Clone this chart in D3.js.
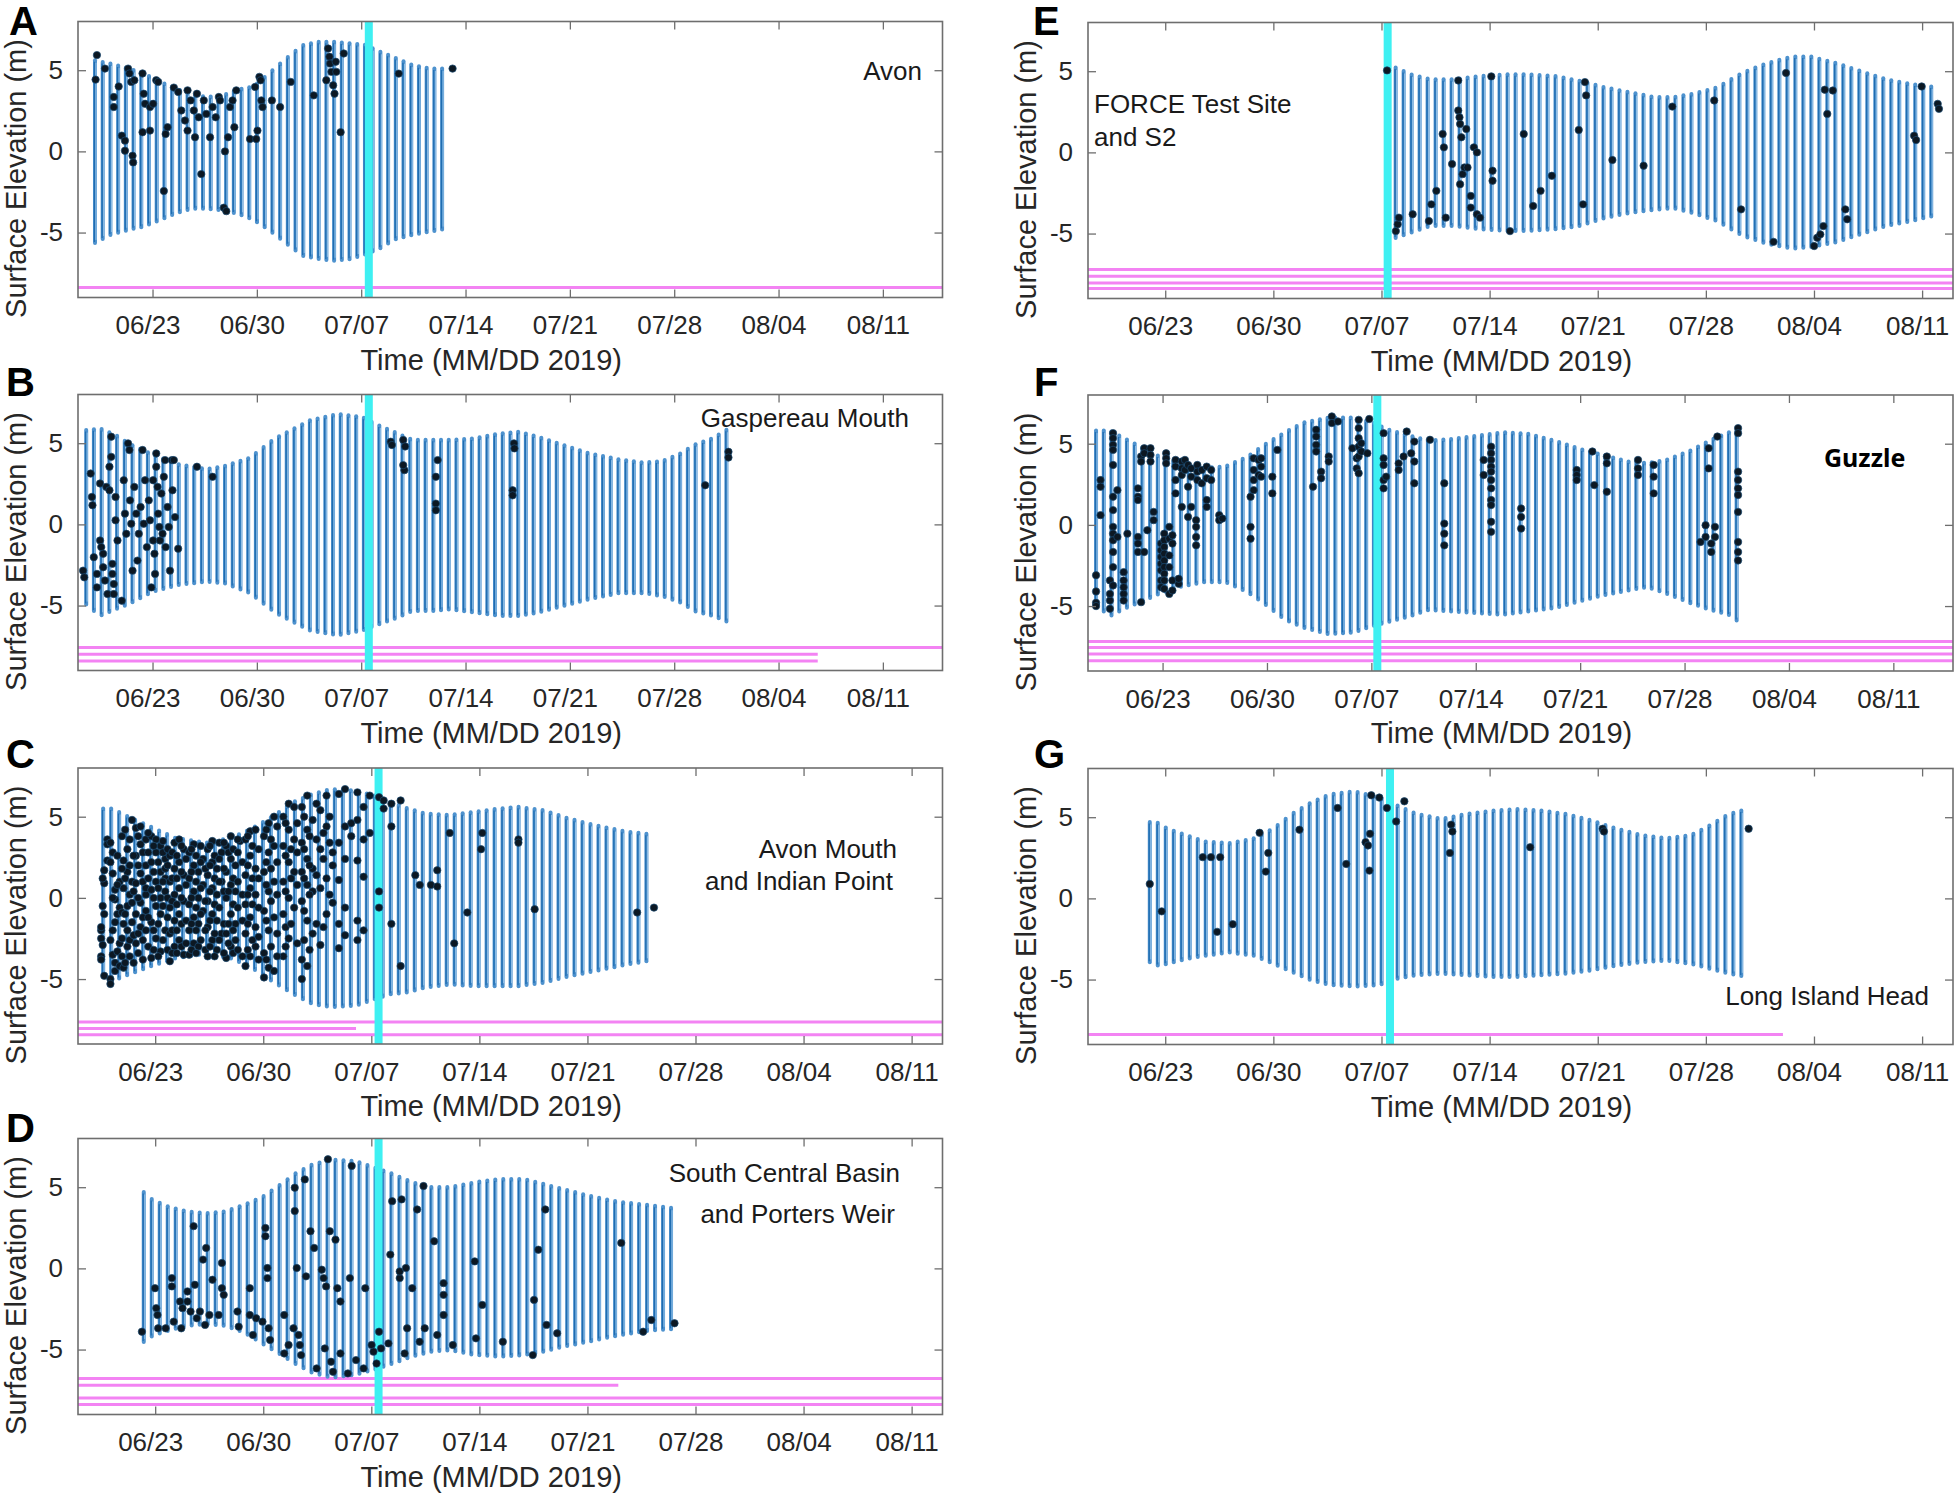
<!DOCTYPE html>
<html>
<head>
<meta charset="utf-8">
<script src="https://cdn.jsdelivr.net/npm/d3@7"></script>
<style>
  body { margin: 0; background: #ffffff; }
  svg { display: block; font-family: "Liberation Sans", Arial, Helvetica, sans-serif; }
</style>
</head>
<body>
<svg id="chart" width="1959" height="1500"></svg>
<script>
// ---------------- DATA (days counted in 2019: day 1 = 06/01, day 31 = 07/01, day 62 = 08/01) ----------------
const tickDays   = [23, 30, 37, 44, 51, 58, 65, 72];
const tickLabels = ["06/23", "06/30", "07/07", "07/14", "07/21", "07/28", "08/04", "08/11"];
const yTickValues = [-5, 0, 5];
const yTickLabels = ["-5", "0", "5"];
const yLimits = [-9, 8];
const xLimitsLong  = [18, 76];   // 06/18 - 08/15
const xLimitsShort = [18, 74];   // 06/18 - 08/13
const xTitle = "Time (MM/DD 2019)";
const yTitle = "Surface Elevation (m)";

// tidal envelope: [day, high water (m), low water (m)]
const envA = [[19.14,5.7,-5.7],[20.2,5.5,-5.2],[21.4,5.2,-4.9],[22.4,4.9,-4.7],[23.5,4.4,-4.3],[24.5,4.0,-3.9],[25.6,3.6,-3.6],[26.6,3.45,-3.6],[27.7,3.55,-3.7],[28.7,3.9,-3.9],[29.8,4.1,-4.3],[30.8,4.9,-4.9],[32.06,5.9,-5.8],[33.1,6.65,-6.5],[34.2,6.85,-6.7],[35.2,6.85,-6.8],[36.3,6.75,-6.7],[37.3,6.65,-6.4],[38.35,6.2,-6.0],[39.2,5.9,-5.5],[40.45,5.4,-5.2],[41.7,5.2,-5.0],[42.9,5.2,-4.8]];
const envB = [[18.55,5.9,-5.0],[19.48,6.0,-5.7],[20.53,5.6,-5.3],[21.57,5.0,-4.9],[23.04,4.4,-4.2],[24.72,3.8,-3.8],[26.61,3.5,-3.6],[27.86,3.7,-3.7],[29.54,4.2,-4.3],[31.22,5.4,-5.5],[32.48,6.0,-6.1],[33.53,6.5,-6.6],[35.42,6.9,-6.9],[37.09,6.7,-6.6],[37.93,6.3,-6.3],[39.19,5.8,-5.9],[40.45,5.3,-5.4],[41.71,5.3,-5.4],[42.97,5.3,-5.3],[44.65,5.4,-5.5],[46.33,5.7,-5.7],[47.58,5.8,-5.7],[48.84,5.5,-5.5],[50.52,5.0,-5.1],[52.20,4.5,-4.7],[54.29,4.1,-4.3],[55.97,3.9,-4.3],[57.23,4.0,-4.5],[58.49,4.5,-4.9],[59.33,5.0,-5.4],[60.59,5.4,-5.7],[61.64,6.0,-6.1]];
const envC = [[19.63,5.6,-4.9],[20.23,5.6,-5.2],[21.24,5.1,-4.8],[22.66,4.5,-4.3],[24.28,3.8,-3.8],[26.30,3.5,-3.5],[27.92,3.8,-3.8],[29.13,4.3,-4.3],[30.75,5.2,-5.3],[31.96,6.0,-6.0],[33.17,6.5,-6.6],[34.39,6.8,-6.8],[36.01,6.7,-6.7],[37.22,6.4,-6.3],[38.23,6.0,-6.0],[39.24,5.65,-5.9],[40.46,5.3,-5.6],[42.08,5.2,-5.4],[43.70,5.4,-5.5],[45.31,5.6,-5.5],[46.53,5.7,-5.5],[48.14,5.5,-5.3],[49.76,5.0,-4.9],[51.38,4.6,-4.6],[53.40,4.2,-4.2],[55.22,4.0,-3.9]];
const envD = [[22.26,4.8,-4.6],[22.86,4.3,-4.2],[23.87,3.9,-3.9],[25.09,3.6,-3.6],[26.30,3.5,-3.5],[27.51,3.6,-3.6],[28.73,4.0,-4.0],[29.94,4.5,-4.7],[31.16,5.3,-5.4],[32.17,6.0,-6.0],[33.18,6.5,-6.5],[34.39,6.8,-6.8],[36.01,6.7,-6.6],[37.22,6.3,-6.3],[38.44,5.9,-5.9],[39.65,5.4,-5.5],[40.86,5.1,-5.2],[42.08,5.1,-5.1],[43.70,5.4,-5.4],[45.31,5.6,-5.5],[46.93,5.6,-5.4],[48.14,5.3,-5.2],[49.36,5.0,-4.9],[50.98,4.6,-4.6],[52.98,4.2,-4.2],[55.00,4.0,-3.9],[56.64,3.8,-3.8]];
const envE = [[37.40,5.4,-5.4],[37.72,5.4,-5.4],[38.94,4.9,-5.0],[40.15,4.6,-4.6],[41.77,4.6,-4.6],[43.38,4.8,-4.8],[45.00,4.9,-4.9],[46.62,4.9,-4.9],[48.23,4.8,-4.8],[49.85,4.5,-4.6],[51.47,4.1,-4.1],[53.08,3.8,-3.8],[54.70,3.5,-3.6],[55.91,3.5,-3.5],[57.13,3.7,-3.8],[58.74,4.1,-4.3],[60.36,5.0,-5.2],[61.98,5.6,-5.7],[63.59,6.0,-6.0],[64.81,6.0,-5.9],[66.42,5.6,-5.6],[68.04,5.1,-5.1],[69.66,4.6,-4.6],[71.27,4.3,-4.3],[73.09,4.1,-3.9]];
const envF = [[18.54,5.9,-5.0],[19.47,5.9,-5.7],[20.51,5.4,-5.2],[21.56,4.9,-4.8],[22.82,4.3,-4.3],[24.08,3.9,-3.9],[25.75,3.6,-3.6],[27.22,3.7,-3.6],[28.69,4.3,-4.2],[29.94,5.1,-5.0],[31.20,5.8,-5.9],[32.46,6.4,-6.4],[34.14,6.7,-6.8],[35.81,6.7,-6.7],[37.07,6.4,-6.3],[38.33,5.9,-6.0],[39.58,5.6,-5.7],[40.84,5.3,-5.3],[42.52,5.4,-5.4],[44.19,5.6,-5.5],[45.87,5.8,-5.6],[47.55,5.7,-5.4],[49.22,5.3,-5.2],[50.90,4.8,-4.8],[52.58,4.4,-4.4],[54.25,4.0,-4.1],[55.51,3.9,-3.9],[56.77,4.1,-4.3],[58.44,4.7,-4.9],[59.70,5.3,-5.3],[60.96,5.8,-5.6],[61.71,6.0,-6.1]];
const envG = [[22.0,4.8,-4.0],[22.44,4.8,-4.2],[23.13,4.4,-4.1],[24.34,4.0,-3.8],[25.55,3.6,-3.6],[27.17,3.5,-3.4],[28.78,3.8,-3.6],[30.0,4.4,-4.1],[31.21,5.3,-4.6],[32.42,6.0,-5.1],[33.63,6.5,-5.4],[35.25,6.7,-5.5],[36.86,6.3,-5.4],[38.07,5.8,-5.0],[39.28,5.3,-4.8],[40.90,5.0,-4.7],[42.52,5.3,-4.8],[44.13,5.5,-4.9],[45.75,5.6,-4.9],[47.36,5.5,-4.8],[48.98,5.3,-4.7],[50.59,4.9,-4.5],[52.21,4.4,-4.2],[53.82,4.0,-4.0],[55.44,3.8,-3.9],[57.05,4.0,-4.1],[58.27,4.6,-4.4],[59.48,5.3,-4.7],[60.69,5.6,-4.9]];

// detections: [day, elevation]
const dotsA = [[19.27,5.93],[19.18,4.42],[19.81,5.1],[20.40,3.35],[20.40,2.73],[20.73,4.0],[20.94,0.97],[21.15,0.66],[21.15,0.04],[21.36,5.1],[21.45,4.8],[21.57,4.28],[21.66,-0.27],[21.70,-0.68],[21.78,4.38],[22.33,4.8],[22.41,3.55],[22.50,2.93],[22.33,1.18],[22.83,1.28],[22.83,2.73],[23.04,2.93],[23.25,4.38],[23.38,4.28],[23.76,-2.44],[23.88,1.07],[24.01,1.49],[24.43,3.93],[24.72,3.66],[24.93,2.52],[25.18,1.9],[25.35,3.76],[25.35,1.28],[25.56,3.14],[25.77,2.52],[25.85,0.87],[25.98,3.55],[26.10,2.1],[26.27,-1.4],[26.44,3.14],[26.61,2.31],[26.86,0.87],[27.03,2.73],[27.24,2.1],[27.45,3.35],[27.53,3.14],[27.78,-3.47],[27.86,0],[27.95,-3.68],[28.07,0.87],[28.20,2.73],[28.37,3.14],[28.49,1.49],[28.62,3.76],[29.54,0.76],[29.88,3.97],[29.96,0.76],[30.04,1.28],[30.17,4.59],[30.25,4.38],[30.30,3.14],[30.38,2.73],[31.01,3.14],[31.56,2.73],[32.27,4.28],[33.82,3.45],[34.66,4.38],[34.78,6.34],[34.87,5.83],[34.91,5.41],[35.00,4.9],[35.12,4.07],[35.29,5.52],[35.33,4.9],[35.21,3.55],[35.62,1.18],[35.83,6.03],[39.52,4.79],[43.13,5.1]];
const dotsB = [[18.34,-2.85],[18.42,-3.26],[18.85,3.13],[18.93,1.69],[18.97,1.18],[19.06,-2.02],[19.27,-3.05],[19.27,-3.88],[19.48,2.52],[19.48,-0.99],[19.56,-1.40],[19.69,-1.81],[19.69,-2.64],[19.81,-3.46],[19.90,2.31],[19.98,-4.29],[20.11,2.10],[20.11,3.55],[20.23,5.40],[20.23,4.16],[20.31,-2.43],[20.31,-3.05],[20.40,-3.67],[20.40,-4.29],[20.52,1.69],[20.52,0.25],[20.65,-0.99],[20.94,-4.70],[21.07,2.72],[21.15,0.66],[21.24,-0.58],[21.36,4.99],[21.45,4.58],[21.49,1.48],[21.57,0.04],[21.66,-2.85],[21.78,2.31],[21.91,0.66],[21.99,-2.23],[22.08,-0.58],[22.20,1.07],[22.33,4.58],[22.41,0.04],[22.50,2.72],[22.62,-1.40],[22.75,1.48],[22.83,0.25],[22.92,-3.88],[23.04,2.72],[23.04,-0.99],[23.13,-1.81],[23.17,-3.05],[23.25,4.37],[23.25,3.55],[23.34,2.31],[23.38,0.66],[23.46,-0.16],[23.50,-0.99],[23.59,1.90],[23.67,-0.58],[23.76,2.93],[23.84,3.96],[23.88,-1.40],[24.01,1.07],[24.09,-0.16],[24.17,-2.85],[24.30,3.96],[24.34,2.10],[24.43,3.96],[24.51,0.45],[24.72,-1.50],[25.98,3.55],[27.03,2.93],[38.98,5.09],[39.06,4.89],[39.82,5.20],[39.90,3.34],[39.95,4.80],[39.82,3.65],[42.13,3.96],[42.01,2.93],[42.01,1.28],[42.01,0.87],[47.25,4.99],[47.28,4.68],[47.16,2.10],[47.16,1.79],[60.08,2.41],[61.64,4.47],[61.64,4.12]];
// columns of detections: [day, [elevations]]
const dotsC = [[19.5,[-3.6,-3.8,-2.0,-2.5,-1.8]],[19.7,[0.9,1.7,-4.8,-1.0]],[19.9,[2.3,3.6,3.3]],
  [20.1,[-5.0,-5.3,-2.6,3.4,2.2]],[20.4,[-4.0,-4.5,-1.5,-0.1,0.5]],[20.7,[-4.2,1.0,-0.6,-2.8]],
  [20.95,[-4.3,-1.6,0.6,2.3]],[21.2,[-2.0,-0.5,1.6,3.0,-3.0]],[21.5,[-1.5,-0.3,1.0,4.8]],
  [21.75,[-2.8,-1.0,0.9,2.6,4.3]],[22.05,[-1.8,-0.3,1.5,3.3,4.4]],[22.4,[-2.0,-0.8,0.2,0.6,2.0,3.6]],
  [22.75,[-3.7,-1.5,0.5,2.2,3.8]],[23.05,[-2.5,-0.5,1.0,2.8,3.6]],[23.35,[-3.3,-1.0,0,1.6,3.2]],[23.65,[-2.0,0.4,1.2,1.8,2.4]],
  [23.95,[-3.9,-2.2,-0.6,1.0,2.6]],[24.25,[-3.0,-1.4,0.2,1.8,3.4]],[24.55,[-2.6,-1.0,0.6,2.2,3.6]],[24.85,[-3.5,-0.2,1.4,3.0]],
  [25.2,[-3.5,-2.0,-0.4,1.2,2.8]],[25.5,[-2.8,-1.2,0.4,2.0,3.3]],[25.8,[-3.0,-1.6,0,1.6]],[26.1,[-0.8,0.8,2.4]],
  [26.4,[-3.6,-1.8,-0.2,1.4,3.0]],[26.7,[-2.6,-1.0,0.6,2.2,3.5]],[27.0,[-3.2,-1.4,0.2,1.8]],[27.3,[-2.2,1.0,2.8]],
  [27.6,[-3.7,-2.2,0,1.6,3.2]],[27.9,[-3.0,-1.0,0.8,2.4,3.8]],[28.2,[-2.6,-1.6,0.4,2.0]],[28.5,[3.5]],
  [28.85,[-4.2,-2.2,-0.4,1.4,3.6]],[29.15,[-3.6,-1.2,0.6,2.6,4.1]],[29.5,[-3.0,-1.8,0.2,1.8,4.2]],
  [30.05,[-4.9,-3.4,-0.8,1.6,3.8]],[30.35,[-4.3,-2.0,0.4,2.8,4.6]],[30.7,[-4.5,-1.2,1.0,3.2,5.0]],
  [31.3,[-3.6,-1.0,1.0,3.2,5.0]],[31.65,[-2.5,0,2.2,4.2,5.8]],[32.0,[-0.6,1.6,3.6,5.6]],
  [32.5,[-5.0,-3.8,-0.2,1.6,3.4,5.6]],[32.85,[-4.2,-1.4,0.8,2.4,4.2,6.3]],[33.2,[-2.2,0.4,1.8,4.8]],
  [33.7,[-2.9,0.6,3.0,5.4]],[34.1,[-1.0,1.2,4.4,6.3]],[34.5,[-0.3,2.0,2.8]],
  [34.9,[-3.1,-1.6,1.1,3.4,6.4]],[35.3,[-2.3,-0.6,2.4,4.4,6.7]],[35.7,[3.8,4.6]],
  [36.1,[-2.6,-1.4,2.3,4.8,6.5]],[36.5,[-2.0,1.3,3.6,5.6]],[36.9,[4.0,6.3]],
  [37.5,[-0.6,0.4,6.2]],[37.8,[5.5,6.0]],[38.3,[-1.6,5.8,4.4]],[38.9,[-4.2,6.0]],
  [39.85,[1.4]],[40.14,[0.8]],[40.86,[0.8]],[41.27,[1.7,0.7]],[42.08,[4.0]],[42.37,[-2.8]],[43.22,[-0.9]],
  [44.11,[3.0]],[44.19,[4.0]],[46.53,[3.6,3.4]],[47.58,[-0.7]],[54.22,[-0.9]],[55.31,[-0.6]],
  [19.6,[-2.9,-0.5,1.2]],[20.25,[-3.5,-2.0,0.0,1.5,2.8]],[20.55,[-3.3,-1.0,0.8,2.6]],[20.85,[-3.6,-2.5,-0.9,1.8,3.8]],
  [21.05,[-4.0,-1.0,1.2,4.2]],[21.35,[-3.6,-2.6,0.2,2.0,3.6]],[21.6,[-4.0,-2.3,0.4,2.6]],[21.9,[-3.4,-2.2,0.0,2.0,3.8]],
  [22.2,[-3.8,-2.6,-1.2,1.0,2.8]],[22.55,[-3.0,-1.2,1.2,2.8,4.0]],[22.9,[-3.2,-2.0,0.0,1.6,3.2]],[23.2,[-3.6,-1.6,0.6,2.2]],
  [23.5,[-2.6,-0.5,1.0,2.8,3.5]],[23.8,[-3.2,-1.2,0.0,2.0,3.0]],[24.1,[-3.4,-2.0,-0.2,1.2,2.8]],[24.4,[-3.4,-2.0,-0.4,1.2,2.6]],
  [24.7,[-3.0,-1.6,0.0,1.6,3.2]],[25.0,[-2.8,-1.4,0.8,2.4]],[25.35,[-3.2,-1.6,0.0,1.6,3.0]],[25.65,[-3.4,-2.0,-0.6,1.0,2.6]],
  [25.95,[-2.6,-1.0,0.6,2.2,3.2]],[26.25,[-3.2,-2.0,-0.2,1.8]],[26.55,[-3.0,-1.4,0.4,2.0,3.2]],[26.85,[-3.6,-2.2,-0.4,1.2,2.6]],
  [27.15,[-2.6,-0.6,1.0,2.4,3.4]],[27.45,[-3.4,-1.6,0.4,1.8,3.4]],[27.75,[-2.8,-1.6,0.4,2.8]],[28.05,[-3.4,-2.0,-0.4,1.2,3.0]],
  [28.35,[-3.2,-0.6,1.0,2.8,3.6]],[28.65,[-3.6,-1.4,0.2,2.2]],[29.0,[-3.2,-1.6,0.2,2.0,3.8]],[29.3,[-2.6,-0.4,1.2,3.2]],
  [29.7,[-3.8,-2.4,-0.6,1.2,3.0]],[30.2,[-3.8,-1.4,0.8,2.2,4.2]],[30.5,[-3.0,-0.2,1.8,3.6]],[30.9,[-3.6,-2.2,0.2,2.2,4.4]],
  [31.45,[-3.0,-1.8,0.4,2.6,4.6]],[31.8,[-1.6,1.2,3.0]],[32.2,[-2.8,0.8,2.8,4.6]],[32.65,[-2.6,-0.8,1.2,3.0,5.0]],
  [33.0,[-3.2,0.2,2.0,3.8]],[33.45,[-1.6,1.4,3.6,5.8]],[33.9,[-1.8,2.4,4.0]],[34.3,[0.2,3.4,5.0]]];
const dotsD = [[22.14,-3.9],[22.99,-1.22],[23.07,-2.45],[23.15,-2.87],[23.19,-3.69],[23.68,-3.69],[24.08,-0.6],[24.08,-1.11],[24.20,-3.28],[24.61,-2.04],[24.69,-3.69],[24.77,-2.45],[25.09,-1.42],[25.09,-2.04],[25.29,-2.66],[25.49,2.6],[25.57,-1.01],[25.70,-3.07],[25.90,-2.66],[26.10,0.54],[26.23,-3.48],[26.30,1.26],[26.51,-2.87],[26.71,-0.7],[27.11,-2.87],[27.32,0.33],[27.32,-1.22],[27.44,-1.63],[28.33,-2.66],[28.41,-3.59],[29.13,-1.22],[29.13,-2.87],[29.33,-4.1],[29.54,-3.07],[30.14,2.49],[30.14,1.98],[30.27,0.02],[30.27,-0.6],[29.95,-3.28],[30.35,-3.69],[30.44,-4.41],[31.36,-2.87],[31.36,-5.24],[31.64,-4.72],[31.96,-3.69],[32.04,4.97],[32.04,3.53],[32.17,0.02],[32.29,-4.1],[32.37,-4.72],[32.45,-5.34],[32.69,5.48],[32.77,-0.49],[33.06,2.29],[33.30,1.26],[33.46,-6.16],[33.79,-0.08],[33.91,-0.6],[33.99,-4.93],[34.07,-1.11],[34.19,6.72],[34.31,2.29],[34.39,-5.75],[34.52,-6.37],[34.68,1.77],[34.80,-1.22],[35.00,-2.04],[35.00,-5.24],[35.48,-6.47],[35.61,-0.6],[35.73,6.31],[36.01,-5.65],[36.50,-6.16],[36.61,-1.22],[37.02,-4.72],[37.14,-5.13],[37.34,-5.86],[37.50,-3.9],[37.63,-4.93],[38.11,-4.62],[38.23,0.85],[38.35,4.14],[38.84,-0.6],[38.84,-0.19],[38.96,4.25],[39.16,-5.24],[39.24,0.02],[39.32,-3.69],[39.65,-1.22],[39.97,3.63],[40.13,-4.52],[40.38,5.07],[40.46,-3.69],[41.07,1.67],[41.27,-4.1],[41.68,-0.91],[41.68,-1.63],[41.68,-2.87],[42.28,-4.72],[43.70,0.43],[43.78,-4.31],[44.19,-2.25],[45.52,-4.52],[47.46,-5.34],[47.54,-1.94],[47.82,1.15],[48.27,3.63],[48.35,-3.48],[49.04,-4.0],[53.19,1.57],[54.61,-3.9],[55.14,-3.18],[56.64,-3.38]];
const dotsE = [[37.36,5.05],[37.93,-4.85],[38.05,-4.43],[38.13,-4.02],[39.02,-3.81],[40.07,-4.23],[40.23,-3.2],[40.55,-2.37],[40.96,1.13],[41.04,0.31],[41.16,-4.02],[41.57,-0.72],[41.97,4.43],[41.97,2.58],[42.05,2.16],[42.09,1.75],[42.09,-1.96],[42.17,0.93],[42.25,-1.34],[42.37,-0.93],[42.49,1.44],[42.57,-0.93],[42.78,-2.68],[42.78,-3.4],[42.98,0.31],[43.18,0],[43.18,-3.81],[43.38,-4.02],[44.11,4.68],[44.19,-1.13],[44.19,-1.75],[45.32,-4.85],[46.21,1.13],[46.82,-3.3],[47.30,-2.37],[48.03,-1.44],[49.77,1.38],[50.05,-3.2],[50.17,4.33],[50.25,3.51],[51.95,-0.47],[53.97,-0.82],[55.83,2.82],[58.54,3.2],[60.28,-3.51],[62.38,-5.51],[63.19,4.89],[65.01,-5.77],[65.21,-5.26],[65.41,-5.05],[65.61,-4.54],[65.70,3.86],[65.86,2.37],[66.22,3.81],[67.03,-3.51],[67.15,-4.12],[71.48,1.03],[71.61,0.76],[71.97,4.06],[73.01,2.99],[73.09,2.68]];
const dotsF = [[18.54,[-3.1,-4.1,-4.8,-5.0]],[18.84,[2.76,2.35,0.6]],[19.47,[-4.66,-5.17,-4.25,-3.42]],
  [19.68,[5.65,5.34,4.93,4.62,3.69,1.73,0.91,-0.12,-0.54,-0.95,-1.67,-2.6,-3.73]],[19.97,[2.14,-0.74]],
  [20.39,[-2.91,-3.42,-4.25,-4.66,-3.84]],[20.64,[-0.54]],[21.35,[2.25,1.73,1.53,-0.74,-1.15,-1.67]],
  [21.56,[4.21,3.9,-4.76]],[21.77,[4.72,4.41,-1.67]],[21.98,[-0.33]],[22.19,[4.72,4.31,3.9]],[22.40,[0.8,0.29]],
  [22.90,[-1.15,-1.57,-1.98,-2.39,-2.8,-3.42,-3.84]],[23.11,[-0.54,-0.95,-1.36,-1.77,-2.19,-2.6,-3.01,-3.42,-3.94]],
  [23.24,[4.41,4.1,3.79]],[23.45,[-0.12,-0.85,-1.88,-2.6,-4.25]],[23.66,[-0.64,-1.15,-4.04,-3.42]],
  [23.87,[4.0,3.59,2.76,1.94]],[24.08,[-3.63,-3.32]],[24.29,[3.9,3.48,3.07,1.11]],[24.50,[4.0,3.38]],
  [24.71,[3.69,2.35,0.49]],[24.92,[3.48,2.97,1.11]],[25.25,[0.29,-0.12,-0.74,-1.26]],[25.33,[3.69,3.28,2.76]],
  [25.63,[3.38,2.56]],[25.96,[3.59,2.87,1.53,1.11]],[26.26,[3.38,2.76]],[26.80,[0.6,0.29]],[27.01,[0.39]],
  [28.90,[-0.12,-0.85,1.73]],[29.11,[4.1,3.38,2.76,2.14]],[29.44,[4.0,3.07]],[29.61,[4.1,3.59,2.97]],
  [30.36,[2.97,1.94]],[30.70,[4.62]],[33.09,[2.35]],[33.30,[5.86,5.44,4.93,4.52]],[33.63,[3.28,2.87]],
  [34.14,[4.21,3.9]],[34.35,[6.68,6.27]],[34.76,[6.37]],[35.73,[4.72]],[36.02,[4.1,3.48]],
  [36.15,[6.47,5.96,5.34,4.82,4.21,3.18]],[36.32,[5.03,4.52]],[36.73,[4.41]],[36.86,[6.52]],
  [37.82,[5.65,4.1,3.69,2.76,2.25]],[37.99,[2.97]],[38.83,[3.79,3.38]],[39.16,[4.21]],[39.37,[5.75]],
  [39.67,[4.41]],[39.88,[5.13,3.9,2.56]],[40.93,[5.24]],[41.89,[2.56,0.08,-0.54,-1.26]],[44.53,[4.0,3.07]],
  [45.03,[4.82,4.41,4.0,3.59,3.28,2.76,2.25,1.53,1.22,0.19,-0.43]],[47.04,[1.01,0.49,-0.23]],
  [50.77,[3.38,3.07,2.76]],[51.82,[4.52]],[51.95,[2.45]],[52.79,[4.21,3.79,2.04]],[54.88,[4.0,3.48,3.07]],
  [55.93,[3.69,2.97,1.94]],[59.07,[-1.05]],[59.41,[-0.02,-0.74]],[59.62,[4.72,3.48]],[59.79,[-1.15,-1.67]],
  [60.04,[-0.12,-0.74]],[60.20,[5.44]],[61.59,[5.96,5.65,3.28,2.76,2.25,1.84,0.8,-1.05,-1.67,-2.19]]];
const dotsG = [[22.0,0.89],[22.77,-0.8],[25.43,2.54],[25.96,2.54],[26.56,2.54],[26.36,-2.06],[27.37,-1.59],[29.11,4.04],[29.51,1.65],[29.67,2.8],[31.69,4.23],[34.16,5.57],[34.72,2.12],[35.97,3.46],[36.13,3.26],[36.26,3.98],[36.22,1.71],[36.34,6.35],[36.86,6.21],[37.35,5.57],[37.95,4.74],[38.48,5.98],[41.51,4.54],[41.59,4.12],[41.43,2.8],[46.63,3.15],[51.32,4.29],[51.40,4.12],[60.77,4.29]];

// horizontal reference lines: [elevation, first day, last day]
const refA = [[-8.39,18,76]];
const refB = [[-7.59,18,76],[-8.0,18,67.63],[-8.41,18,67.63]];
const refC = [[-7.64,18,74],[-8.05,18,36.01],[-8.43,18,74]];
const refD = [[-6.78,18,74],[-7.2,18,53.0],[-7.98,18,74],[-8.39,18,74]];
const refE = [[-7.22,18,74],[-7.63,18,74],[-8.04,18,74],[-8.39,18,74]];
const refF = [[-7.18,18,76],[-7.55,18,76],[-7.96,18,76],[-8.37,18,76]];
const refG = [[-8.39,18,62.99]];

// vertical event marker (day)
const eventDay = { A: 37.51, B: 37.51, C: 37.47, D: 37.47, E: 37.40, F: 37.40, G: 37.55 };

const siteNames = {
  A: ["Avon"], B: ["Gaspereau Mouth"], C: ["Avon Mouth", "and Indian Point"],
  D: ["South Central Basin", "and Porters Weir"], E: ["FORCE Test Site", "and S2"],
  F: ["Guzzle"], G: ["Long Island Head"]
};

// ---------------- LAYOUT ----------------
const AX_H = 276;
const colX = { L: [78, 942.5], R: [1088, 1953] };
const panels = [
  { id: "A", col: "L", top: 21.5,  xlim: xLimitsLong,  env: envA, dots: dotsA, ref: refA, letter: [9, 35],
    label: { anchor: "end", x: 922, ys: [80] } },
  { id: "B", col: "L", top: 394.5, xlim: xLimitsLong,  env: envB, dots: dotsB, ref: refB, letter: [6, 396],
    label: { anchor: "end", x: 909, ys: [427] } },
  { id: "C", col: "L", top: 768,   xlim: xLimitsShort, env: envC, dots: dotsC, ref: refC, letter: [6, 768], cols: true,
    label: { anchor: "end", x: 897, ys: [858, 890], xs: [897, 893] } },
  { id: "D", col: "L", top: 1138.5, xlim: xLimitsShort, env: envD, dots: dotsD, ref: refD, letter: [6, 1142],
    label: { anchor: "end", x: 900, ys: [1182, 1223], xs: [900, 895] } },
  { id: "E", col: "R", top: 22.5,  xlim: xLimitsShort, env: envE, dots: dotsE, ref: refE, letter: [1033, 35],
    label: { anchor: "start", x: 1094, ys: [113, 146] } },
  { id: "F", col: "R", top: 395,   xlim: xLimitsLong,  env: envF, dots: dotsF, ref: refF, letter: [1034, 396], cols: true,
    label: { anchor: "start", x: 1824, ys: [467], bold: true } },
  { id: "G", col: "R", top: 768.5, xlim: xLimitsShort, env: envG, dots: dotsG, ref: refG, letter: [1034, 768],
    label: { anchor: "end", x: 1929, ys: [1005] } }
];

// ---------------- DRAWING ----------------
const M2_PERIOD_DAYS = 12.42 / 24;   // semidiurnal tide period
const dayMs = 864e5;
const origin = Date.UTC(2019, 4, 31);
const toDate = d => new Date(origin + d * dayMs);

const svg = d3.select("#chart");
svg.append("rect").attr("width", 1959).attr("height", 1500).attr("fill", "#fff");

// one tidal cycle per M2 period: [day, low, high], range taken from the envelope
function tideCycles(env) {
  const days = env.map(e => e[0]);
  const hi = d3.scaleLinear().domain(days).range(env.map(e => e[1])).clamp(true);
  const lo = d3.scaleLinear().domain(days).range(env.map(e => e[2])).clamp(true);
  const start = days[0], end = days[days.length - 1];
  const out = [];
  for (let t = start; t <= end + 1e-6; t += M2_PERIOD_DAYS) out.push([t, lo(t), hi(t)]);
  return out;
}

panels.forEach(p => {
  const [x0, x1] = colX[p.col];
  const y0 = p.top, y1 = p.top + AX_H;
  const x = d3.scaleUtc().domain(p.xlim.map(toDate)).range([x0, x1]);
  const y = d3.scaleLinear().domain(yLimits).range([y1, y0]);
  const g = svg.append("g").attr("class", "panel-" + p.id);

  const clipId = "clip-" + p.id;
  g.append("clipPath").attr("id", clipId).append("rect")
    .attr("x", x0).attr("y", y0).attr("width", x1 - x0).attr("height", y1 - y0);
  const plot = g.append("g").attr("clip-path", `url(#${clipId})`);

  // reference horizontal lines
  plot.selectAll("line.ref").data(p.ref).enter().append("line")
    .attr("class", "ref")
    .attr("x1", d => x(toDate(d[1]))).attr("x2", d => x(toDate(d[2])))
    .attr("y1", d => y(d[0])).attr("y2", d => y(d[0]))
    .attr("stroke", "#f383f3").attr("stroke-width", 3);

  // tide cycles
  const cycles = tideCycles(p.env);
  const tide = plot.append("g");
  tide.selectAll("line.cy").data(cycles).enter().append("line").attr("class", "cy")
    .attr("x1", d => x(toDate(d[0]))).attr("x2", d => x(toDate(d[0])))
    .attr("y1", d => y(d[1]) - 1).attr("y2", d => y(d[2]) + 1.5)
    .attr("stroke", "#4e92ce").attr("stroke-width", 4).attr("stroke-linecap", "round");
  tide.selectAll("line.cyin").data(cycles).enter().append("line").attr("class", "cyin")
    .attr("x1", d => x(toDate(d[0])) - 0.6).attr("x2", d => x(toDate(d[0])) - 0.6)
    .attr("y1", d => y(d[1]) - 2).attr("y2", d => y(d[2]) + 3)
    .attr("stroke", "#1f6cb0").attr("stroke-width", 1.3);
  tide.selectAll("line.cyhi").data(cycles).enter().append("line").attr("class", "cyhi")
    .attr("x1", d => x(toDate(d[0])) + 1.0).attr("x2", d => x(toDate(d[0])) + 1.0)
    .attr("y1", d => y(d[1]) - 4).attr("y2", d => y(d[2]) + 4)
    .attr("stroke", "#9cc6ea").attr("stroke-width", 0.9);

  // event marker
  const ex = x(toDate(eventDay[p.id]));
  plot.append("rect").attr("x", ex - 4).attr("y", y0).attr("width", 8).attr("height", y1 - y0)
    .attr("fill", "#3ef0f2");

  // detections
  const pts = p.cols ? p.dots.flatMap(c => c[1].map(v => [c[0], v])) : p.dots;
  plot.selectAll("circle.det").data(pts).enter().append("circle")
    .attr("class", "det")
    .attr("cx", d => x(toDate(d[0]))).attr("cy", d => y(d[1])).attr("r", 3.7)
    .attr("fill", "#0c1823").attr("stroke", "#1a4a72").attr("stroke-width", 0.7);

  // axes (ticks inside, MATLAB style)
  const tickVals = tickDays.map(toDate);
  const axB = g.append("g").attr("transform", `translate(0,${y1})`)
    .call(d3.axisBottom(x).tickValues(tickVals).tickFormat((d, i) => tickLabels[i])
      .tickSizeInner(-8).tickSizeOuter(0).tickPadding(18.5));
  const axT = g.append("g").attr("transform", `translate(0,${y0})`)
    .call(d3.axisTop(x).tickValues(tickVals).tickFormat("").tickSizeInner(-8).tickSizeOuter(0));
  const axL = g.append("g").attr("transform", `translate(${x0},0)`)
    .call(d3.axisLeft(y).tickValues(yTickValues).tickFormat((d, i) => yTickLabels[i])
      .tickSizeInner(-8).tickSizeOuter(0).tickPadding(15));
  const axR = g.append("g").attr("transform", `translate(${x1},0)`)
    .call(d3.axisRight(y).tickValues(yTickValues).tickFormat("").tickSizeInner(-8).tickSizeOuter(0));
  [axB, axT, axL, axR].forEach(a => {
    a.select(".domain").remove();
    a.selectAll(".tick line").attr("stroke", "#6e6e6e").attr("stroke-width", 1.3);
    a.selectAll("text").attr("fill", "#262626").style("font-size", "26px")
      .style("font-family", "'Liberation Sans', Arial, sans-serif");
  });
  axB.selectAll("text").attr("x", -5);

  // box
  g.append("rect").attr("x", x0).attr("y", y0).attr("width", x1 - x0).attr("height", y1 - y0)
    .attr("fill", "none").attr("stroke", "#6e6e6e").attr("stroke-width", 1.6);

  // axis titles
  const cx = (x0 + x1) / 2 - 19;
  g.append("text").attr("x", cx).attr("y", y1 + 72).attr("text-anchor", "middle")
    .attr("fill", "#262626").style("font-size", "29px").text(xTitle);
  g.append("text").attr("transform", `translate(${x0 - 52},${(y0 + y1) / 2 + 19}) rotate(-90)`)
    .attr("text-anchor", "middle").attr("fill", "#262626").style("font-size", "29px").text(yTitle);

  // panel letter
  g.append("text").attr("x", p.letter[0]).attr("y", p.letter[1])
    .attr("fill", "#000").style("font-size", "40px").style("font-weight", "bold").text(p.id);

  // site name
  const names = siteNames[p.id];
  names.forEach((nm, i) => {
    const t = g.append("text")
      .attr("x", p.label.xs ? p.label.xs[i] : p.label.x).attr("y", p.label.ys[i])
      .attr("text-anchor", p.label.anchor).attr("fill", "#1a1a1a").text(nm);
    if (p.label.bold) {
      t.style("font-family", "'Noto Sans', 'Open Sans', sans-serif").style("font-weight", "bold").style("font-size", "25px").attr("fill", "#000");
    } else {
      t.style("font-size", "26px");
    }
  });
});
</script>
</body>
</html>
